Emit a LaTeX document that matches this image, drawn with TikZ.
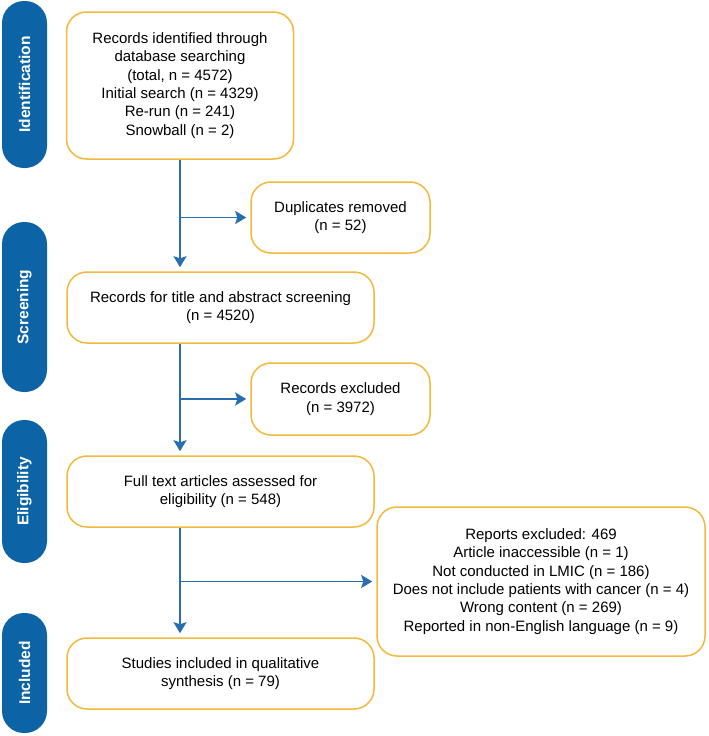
\documentclass[tikz,border=0pt]{standalone}
\usepackage{fontspec}
\setmainfont{Liberation Sans}
\usetikzlibrary{arrows.meta}
\definecolor{barblue}{RGB}{12,99,165}
\definecolor{lineblue}{RGB}{40,110,175}
\definecolor{boxgold}{RGB}{242,185,60}

\begin{document}
\begin{tikzpicture}[x=1pt,y=-1pt,
  stage/.style={draw=boxgold,line width=1.5pt,rounded corners=20pt,align=center,
    inner sep=0pt,font=\fontsize{15}{18.3}\selectfont},
  pill/.style={fill=barblue,rounded corners=22pt,rotate=90,minimum height=45pt,
    inner sep=0pt,text=white,font=\fontsize{15.5}{17}\selectfont\bfseries},
  arr/.style={draw=lineblue,line width=1.8pt,shorten >=4pt,
    -{Stealth[length=11pt,width=13pt,inset=2pt]}}]
\useasboundingbox (0,0) rectangle (709,736);
%phases
\node[pill,minimum width=167pt] (lid) at (24.5,84.5) {Identification};
\node[pill,minimum width=170pt] (lscr) at (24.5,307) {Screening};
\node[pill,minimum width=143pt] (lelig) at (24.5,491.5) {Eligibility};
\node[pill,minimum width=120pt] (linc) at (24.5,673) {Included};
%main column
\node[stage,minimum width=227pt,minimum height=147pt] (id) at (180,85.5)
  {Records identified through\\database searching\\(total, n = 4572)\\Initial search (n = 4329)\\Re-run (n = 241)\\Snowball (n = 2)};
\node[stage,minimum width=307pt,minimum height=71pt] (scr) at (220.5,307.5)
  {Records for title and abstract screening\\(n = 4520)};
\node[stage,minimum width=307pt,minimum height=71pt] (elig) at (220.5,491.5)
  {Full text articles assessed for\\eligibility (n = 548)};
\node[stage,minimum width=307pt,minimum height=71pt] (inc) at (220.5,673.5)
  {Studies included in qualitative\\synthesis (n = 79)};
%side boxes
\node[stage,minimum width=179pt,minimum height=71pt] (dup) at (340.5,217.5)
  {Duplicates removed\\(n = 52)};
\node[stage,minimum width=179pt,minimum height=72pt] (exc) at (340.5,399)
  {Records excluded\\(n = 3972)};
\node[stage,minimum width=328pt,minimum height=149pt] (rep) at (541,581.5)
  {Reports excluded: 469\\Article inaccessible (n = 1)\\Not conducted in LMIC (n = 186)\\Does not include patients with cancer (n = 4)\\Wrong content (n = 269)\\Reported in non-English language (n = 9)};
%arrows
\draw[arr] (id.south) -- (id.south |- scr.north);
\draw[arr] (id.south |- dup.west) -- (dup.west);
\draw[arr] (id.south |- scr.south) -- (id.south |- elig.north);
\draw[arr] (id.south |- exc.west) -- (exc.west);
\draw[arr] (id.south |- elig.south) -- (id.south |- inc.north);
\draw[arr] (id.south |- rep.west) -- (rep.west);
\end{tikzpicture}
\end{document}
